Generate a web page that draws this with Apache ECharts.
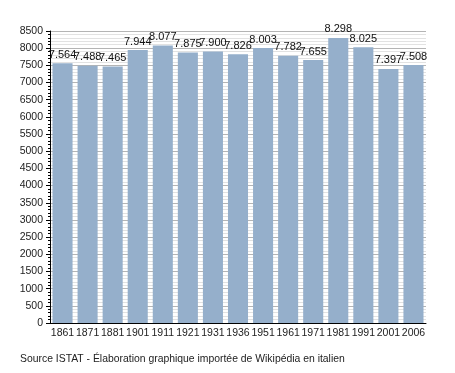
<!DOCTYPE html>
<html><head><meta charset="utf-8">
<script src="https://cdn.jsdelivr.net/npm/echarts@6/dist/echarts.min.js"></script>
<style>html,body{margin:0;padding:0;background:#fff}#c{width:455px;height:373px}</style>
</head><body><div id="c"></div>
<script>
const categories = ['1861','1871','1881','1901','1911','1921','1931','1936','1951','1961','1971','1981','1991','2001','2006'];
const population = [7564,7488,7465,7944,8077,7875,7900,7826,8003,7782,7655,8298,8025,7397,7508];
const caption = 'Source ISTAT - Élaboration graphique importée de Wikipédia en italien';

function fmt(v){ return String(v).replace(/\B(?=(\d{3})+(?!\d))/g,'.'); }

const chart = echarts.init(document.getElementById('c'), null, {renderer:'canvas'});
chart.setOption({
  animation:false,
  textStyle:{fontFamily:'Liberation Sans, Arial, sans-serif'},
  graphic:[{type:'text',left:20,top:354,style:{text:caption,font:'10.4px Liberation Sans, Arial, sans-serif',fill:'#222'}}],
  grid:{left:50,right:29,top:31,bottom:50},
  xAxis:{type:'category',data:categories,
    axisLine:{lineStyle:{color:'#000',width:1}},axisTick:{show:false},
    axisLabel:{color:'#222',fontSize:10.5,margin:5,interval:0}},
  yAxis:{type:'value',min:0,max:8500,interval:500,
    axisLine:{show:true,lineStyle:{color:'#000'}},
    axisTick:{show:true,length:4,lineStyle:{color:'#000'}},
    minorTick:{show:true,splitNumber:5,length:2,lineStyle:{color:'#000'}},
    axisLabel:{color:'#222',fontSize:10.5,margin:7,formatter:v=>String(v)},
    splitLine:{show:true,lineStyle:{color:'#b4b4b4',width:1}},
    minorSplitLine:{show:true,lineStyle:{color:'#e2e2e2',width:1}}},
  series:[{type:'bar',data:population,barCategoryGap:'20%',
    itemStyle:{color:'#95afcb'},
    label:{show:true,position:'top',distance:3,color:'#111',fontSize:11,formatter:p=>fmt(p.value)}}]
});
</script></body></html>
